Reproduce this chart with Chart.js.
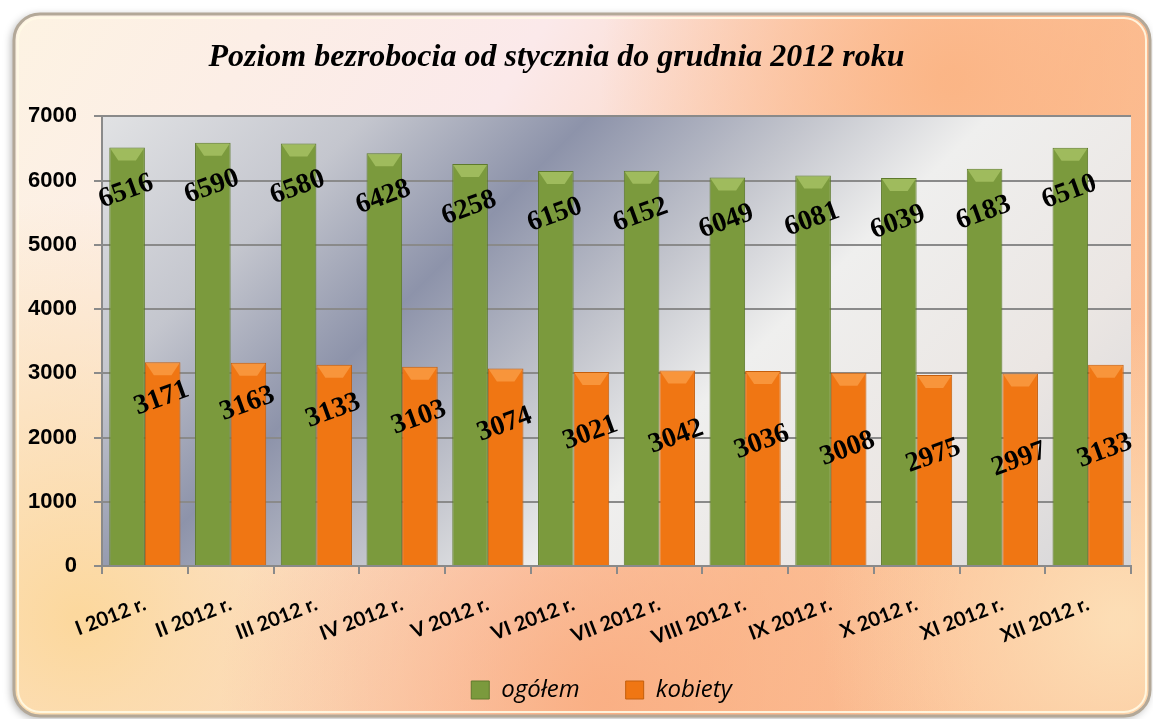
<!DOCTYPE html>
<html>
<head>
<meta charset="utf-8">
<script src="https://cdn.jsdelivr.net/npm/chart.js@4.4.1/dist/chart.umd.min.js"></script>
<style>
  html, body { margin: 0; padding: 0; background: #ffffff; }
  #wrap { width: 1153px; height: 719px; position: relative; }
</style>
</head>
<body>
<div id="wrap"><canvas id="bezrobocieChart" width="1153" height="719"></canvas></div>
<script>
const months = ['I 2012 r.', 'II 2012 r.', 'III 2012 r.', 'IV 2012 r.', 'V 2012 r.', 'VI 2012 r.',
    'VII 2012 r.', 'VIII 2012 r.', 'IX 2012 r.', 'X 2012 r.', 'XI 2012 r.', 'XII 2012 r.'];
const ogolem = [6516, 6590, 6580, 6428, 6258, 6150, 6152, 6049, 6081, 6039, 6183, 6510];
const kobiety = [3171, 3163, 3133, 3103, 3074, 3021, 3042, 3036, 3008, 2975, 2997, 3133];
const yTicks = [0, 1000, 2000, 3000, 4000, 5000, 6000, 7000];

const LEGEND_LIFT = 19;

// background of the whole frame and of the plot area, plus a few layout nudges
const backgroundPlugin = {
    id: 'backgroundPlugin',
    beforeLayout(chart) {
        // let the legend overlap the bottom of the x axis box
        const legend = chart.legend;
        if (legend && !legend._plainFit) {
            legend._plainFit = legend.fit;
            legend.fit = function() {
                this._plainFit();
                this.height -= LEGEND_LIFT;
            };
        }
    },
    afterLayout(chart) {
        // title sits a bit left of the canvas centre, legend a bit right
        chart.titleBlock.left -= 20;
        chart.titleBlock.right -= 20;
        chart.legend.top -= LEGEND_LIFT;
        chart.legend.height += LEGEND_LIFT;
        chart.legend.left += 25;
        chart.legend.right += 25;
    },
    beforeDraw(chart) {
        const ctx = chart.ctx;
        const w = chart.width, h = chart.height;
        const x0 = 14, y0 = 14, x1 = 1150, y1 = 716, r = 26;
        ctx.save();
        // outer rounded frame
        ctx.beginPath();
        ctx.roundRect(x0, y0, x1 - x0, y1 - y0, r);
        ctx.shadowColor = 'rgba(0,0,0,0.35)';
        ctx.shadowBlur = 8;
        ctx.shadowOffsetX = -2;
        ctx.shadowOffsetY = 2;
        let g = ctx.createLinearGradient(0, 0, w, h);
        g.addColorStop(0, '#fdf3e2');
        g.addColorStop(0.35, '#fbe9ea');
        g.addColorStop(0.7, '#fcc29a');
        g.addColorStop(1, '#fbb98c');
        ctx.fillStyle = g;
        ctx.fill();
        ctx.shadowColor = 'transparent';
        ctx.clip();
        // warm glows
        const glows = [
            [80, 620, 420, 'rgba(252,214,150,0.9)'],
            [950, 80, 350, 'rgba(251,178,128,0.85)'],
            [600, 700, 380, 'rgba(249,170,125,0.8)'],
            [1120, 620, 300, 'rgba(253,225,185,0.9)']
        ];
        glows.forEach(([gx, gy, gr, col]) => {
            const rg = ctx.createRadialGradient(gx, gy, 10, gx, gy, gr);
            rg.addColorStop(0, col);
            rg.addColorStop(1, col.replace(/[\d.]+\)$/, '0)'));
            ctx.fillStyle = rg;
            ctx.fillRect(0, 0, w, h);
        });
        ctx.restore();

        // frame border
        ctx.save();
        ctx.beginPath();
        ctx.roundRect(x0, y0, x1 - x0, y1 - y0, r);
        ctx.lineWidth = 3;
        ctx.strokeStyle = '#b3a898';
        ctx.stroke();
        ctx.beginPath();
        ctx.roundRect(x0 + 4, y0 + 4, x1 - x0 - 8, y1 - y0 - 8, r - 4);
        ctx.lineWidth = 2;
        ctx.strokeStyle = 'rgba(255,250,228,0.9)';
        ctx.stroke();
        ctx.restore();

        // plot area, dark diagonal band from top middle to bottom left
        const a = chart.chartArea;
        ctx.save();
        g = ctx.createLinearGradient(a.left, a.top, a.left + 739, a.top + 739);
        g.addColorStop(0, '#e1e2e4');
        g.addColorStop(0.18, '#c4c6ce');
        g.addColorStop(0.33, '#8d93aa');
        g.addColorStop(0.48, '#c3c5cd');
        g.addColorStop(0.6, '#efefee');
        g.addColorStop(0.8, '#ebe6e3');
        g.addColorStop(1, '#d5d5d8');
        ctx.fillStyle = g;
        ctx.fillRect(a.left, a.top, a.right - a.left, a.bottom - a.top);
        ctx.restore();
    }
};

// bevel on bar tops and rotated value labels
const valueLabels = {
    id: 'valueLabels',
    afterDatasetsDraw(chart) {
        const ctx = chart.ctx;
        const bevel = ['rgba(190,215,120,0.55)', 'rgba(255,180,100,0.5)'];
        ctx.save();
        chart.data.datasets.forEach((ds, i) => {
            chart.getDatasetMeta(i).data.forEach(bar => {
                const hw = bar.width / 2;
                ctx.beginPath();
                ctx.moveTo(bar.x - hw + 1, bar.y + 1);
                ctx.lineTo(bar.x + hw - 1, bar.y + 1);
                ctx.lineTo(bar.x + hw - 9, bar.y + 13);
                ctx.lineTo(bar.x - hw + 9, bar.y + 13);
                ctx.closePath();
                ctx.fillStyle = bevel[i];
                ctx.fill();
            });
        });
        ctx.font = 'bold 28px "Liberation Serif", "Times New Roman", serif';
        ctx.fillStyle = '#000';
        ctx.textAlign = 'center';
        ctx.textBaseline = 'middle';
        chart.data.datasets.forEach((ds, i) => {
            chart.getDatasetMeta(i).data.forEach((bar, j) => {
                const dy = i === 0 ? 44 : 36 + 5 * Math.min(j, 10);
                ctx.save();
                ctx.translate(bar.x - 1, bar.y + dy);
                ctx.rotate(-20 * Math.PI / 180);
                ctx.fillText(String(ds.data[j]), 0, 0);
                ctx.restore();
            });
        });
        ctx.restore();
    }
};

const ctx = document.getElementById('bezrobocieChart').getContext('2d');
const chart = new Chart(ctx, {
    type: 'bar',
    data: {
        labels: months,
        datasets: [{
            label: 'ogółem',
            data: ogolem,
            backgroundColor: '#7b9a3d',
            borderColor: '#5e7a2c',
            borderWidth: 1
        }, {
            label: 'kobiety',
            data: kobiety,
            backgroundColor: '#f07613',
            borderColor: '#c45e0c',
            borderWidth: 1
        }]
    },
    options: {
        responsive: false,
        animation: false,
        layout: {
            padding: { left: 22, right: 22, top: 20, bottom: 7 }
        },
        datasets: {
            bar: { categoryPercentage: 0.83, barPercentage: 1.0 }
        },
        plugins: {
            title: {
                display: true,
                text: 'Poziom bezrobocia od stycznia do grudnia 2012 roku',
                color: '#000',
                font: { family: '"Liberation Serif", "Times New Roman", serif', size: 32, weight: 'bold', style: 'italic' },
                padding: { top: 19, bottom: 39 }
            },
            legend: {
                position: 'bottom',
                labels: {
                    color: '#000',
                    usePointStyle: true,
                    pointStyle: 'rect',
                    boxWidth: 18,
                    boxHeight: 18,
                    padding: 46,
                    font: { family: '"Open Sans", sans-serif', size: 24, style: 'italic' }
                }
            },
            tooltip: { enabled: false }
        },
        scales: {
            x: {
                afterFit(axis) { axis.height = 85; },
                grid: { display: true, drawOnChartArea: false, offset: true, color: '#8a8a8a', lineWidth: 2, tickLength: 8 },
                border: { color: '#8a8a8a', width: 2 },
                ticks: {
                    color: '#000',
                    minRotation: 21,
                    maxRotation: 21,
                    padding: 18,
                    font: { family: 'Lato, sans-serif', size: 20, weight: 'bold' }
                }
            },
            y: {
                min: 0,
                max: 7000,
                afterBuildTicks(axis) { axis.ticks = yTicks.map(v => ({ value: v })); },
                afterFit(axis) { axis.width = 80; },
                grid: { color: '#8a8a8a', lineWidth: 2, tickLength: 8 },
                border: { color: '#8a8a8a', width: 2 },
                ticks: {
                    color: '#000',
                    padding: 17,
                    callback: v => String(v),
                    font: { family: '"Liberation Sans", Arial, sans-serif', size: 22, weight: 'bold' }
                }
            }
        }
    },
    plugins: [backgroundPlugin, valueLabels]
});
</script>
</body>
</html>
